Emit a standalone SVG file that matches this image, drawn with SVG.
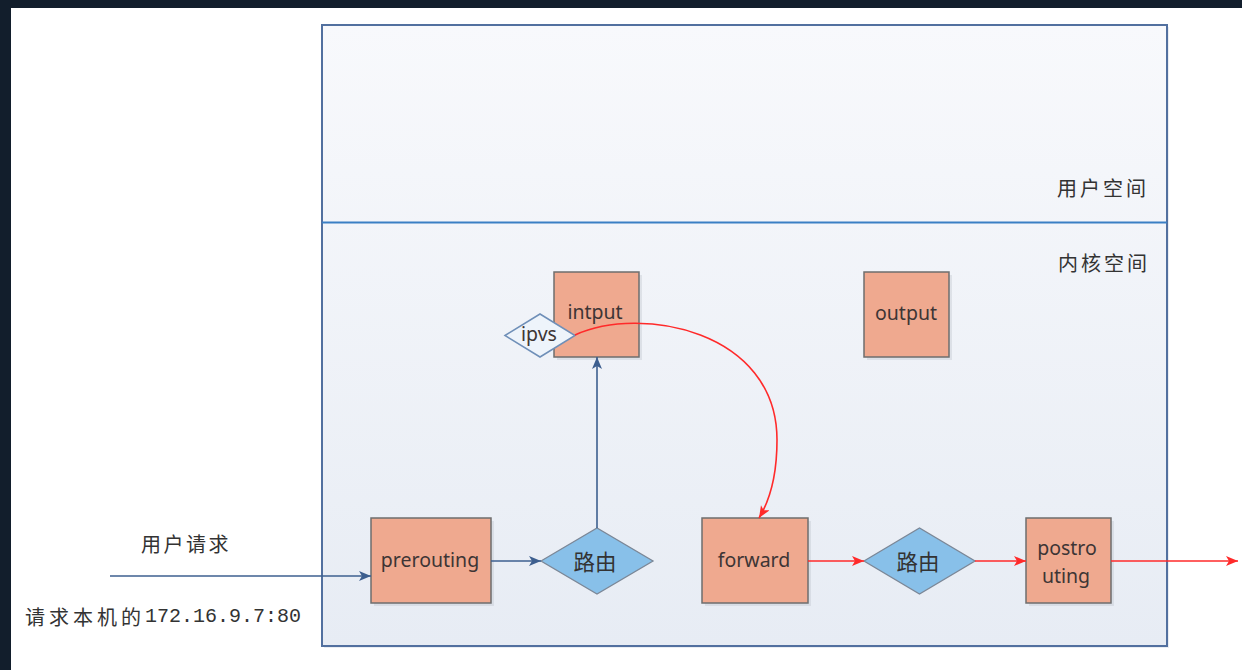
<svg xmlns="http://www.w3.org/2000/svg" width="1242" height="670" viewBox="0 0 1242 670">
  <defs>
    <style>
      .box { fill: #efa98f; stroke: #6e6e6e; stroke-width: 1.5; }
      .shadow { fill: #b9bfc9; opacity: 0.35; }
      .dia { fill: #88c0e9; stroke: #7b8797; stroke-width: 1.3; }
      .lbl { font-family: "Noto Sans", "Liberation Sans", sans-serif; font-size: 19.5px; fill: #3d3535; text-anchor: middle; }
      .cjk { font-family: "Noto Sans CJK SC", "Noto Sans", sans-serif; fill: #333; dominant-baseline: central; }
      .blue { stroke: #3d5f8f; stroke-width: 1.6; fill: none; }
      .red { stroke: #ff2a2a; stroke-width: 1.6; fill: none; }
    </style>
    <linearGradient id="panelFill" x1="0" y1="0" x2="0" y2="1">
      <stop offset="0" stop-color="#f8f9fc"/>
      <stop offset="1" stop-color="#e7ecf4"/>
    </linearGradient>
    <marker id="arrBlue" markerUnits="userSpaceOnUse" markerWidth="14" markerHeight="12" refX="12" refY="5" orient="auto">
      <path d="M0,0 L12,5 L0,10 L3,5 z" fill="#3d5f8f"/>
    </marker>
    <marker id="arrRed" markerUnits="userSpaceOnUse" markerWidth="14" markerHeight="12" refX="12" refY="5" orient="auto">
      <path d="M0,0 L12,5 L0,10 L3,5 z" fill="#ff2a2a"/>
    </marker>
  </defs>

  <!-- page background and dark frame -->
  <rect x="0" y="0" width="1242" height="670" fill="#ffffff"/>
  <rect x="0" y="0" width="1242" height="8" fill="#121e2c"/>
  <rect x="0" y="0" width="11" height="670" fill="#121e2c"/>

  <!-- space panel -->
  <g id="panel">
    <rect x="324" y="27" width="845" height="621" fill="#d5dbe5" opacity="0.5"/>
    <rect x="322" y="25" width="845" height="621" fill="url(#panelFill)" stroke="#52709f" stroke-width="2"/>
    <line x1="322" y1="222.5" x2="1167" y2="222.5" stroke="#3a7fc4" stroke-width="2"/>
    <text class="cjk" x="1057" y="187" font-size="20" letter-spacing="3">用户空间</text>
    <text class="cjk" x="1058" y="262" font-size="20" letter-spacing="3">内核空间</text>
  </g>

  <!-- request labels -->
  <g id="request">
    <text class="cjk" x="141" y="543.5" font-size="20" letter-spacing="2.5">用户请求</text>
    <text x="25" y="615.5" dominant-baseline="central" fill="#333"><tspan class="cjk" font-size="20" letter-spacing="4">请求本机的</tspan><tspan font-family="Liberation Mono, monospace" font-size="20">172.16.9.7:80</tspan></text>
  </g>

  <!-- nodes -->
  <g id="intput">
    <rect class="shadow" x="557" y="275" width="85" height="85"/>
    <rect class="box" x="554" y="272" width="85" height="85"/>
    <text class="lbl" x="595" y="319">intput</text>
  </g>
  <g id="output">
    <rect class="shadow" x="867" y="275" width="85" height="85"/>
    <rect class="box" x="864" y="272" width="85" height="85"/>
    <text class="lbl" x="906" y="320">output</text>
  </g>
  <g id="prerouting">
    <rect class="shadow" x="374" y="521" width="120" height="85"/>
    <rect class="box" x="371" y="518" width="120" height="85"/>
    <text class="lbl" x="430" y="567">prerouting</text>
  </g>
  <g id="route1">
    <polygon class="dia" points="541,561 597,528 653,561 597,594"/>
    <text class="cjk" x="595" y="560.5" font-size="21.5" text-anchor="middle">路由</text>
  </g>
  <g id="forward">
    <rect class="shadow" x="705" y="521" width="106" height="85"/>
    <rect class="box" x="702" y="518" width="106" height="85"/>
    <text class="lbl" x="754" y="567">forward</text>
  </g>
  <g id="route2">
    <polygon class="dia" points="864,561 919.5,528 975,561 919.5,594"/>
    <text class="cjk" x="918" y="560.5" font-size="21.5" text-anchor="middle">路由</text>
  </g>
  <g id="postrouting">
    <rect class="shadow" x="1029" y="521" width="85" height="85"/>
    <rect class="box" x="1026" y="518" width="85" height="85"/>
    <text class="lbl" x="1067" y="555">postro</text>
    <text class="lbl" x="1066" y="583">uting</text>
  </g>
  <g id="ipvs">
    <polygon points="505,335.5 540,314 575,335.5 540,357" fill="#eef4fb" stroke="#6f8fb8" stroke-width="1.5"/>
    <text class="lbl" x="539" y="341" font-size="18">ipvs</text>
  </g>

  <!-- connectors -->
  <g id="connectors">
    <line class="blue" x1="110" y1="576" x2="371" y2="576" marker-end="url(#arrBlue)"/>
    <line class="blue" x1="491" y1="561" x2="541" y2="561" marker-end="url(#arrBlue)"/>
    <line class="blue" x1="597" y1="528" x2="597" y2="357" marker-end="url(#arrBlue)"/>
    <path class="red" d="M575,335 C640,305 777,330 777,440 C777,475 770,500 759,518" marker-end="url(#arrRed)"/>
    <line class="red" x1="808" y1="561" x2="864" y2="561" marker-end="url(#arrRed)"/>
    <line class="red" x1="975" y1="561" x2="1026" y2="561" marker-end="url(#arrRed)"/>
    <line class="red" x1="1111" y1="561" x2="1238" y2="561" marker-end="url(#arrRed)"/>
  </g>
</svg>
